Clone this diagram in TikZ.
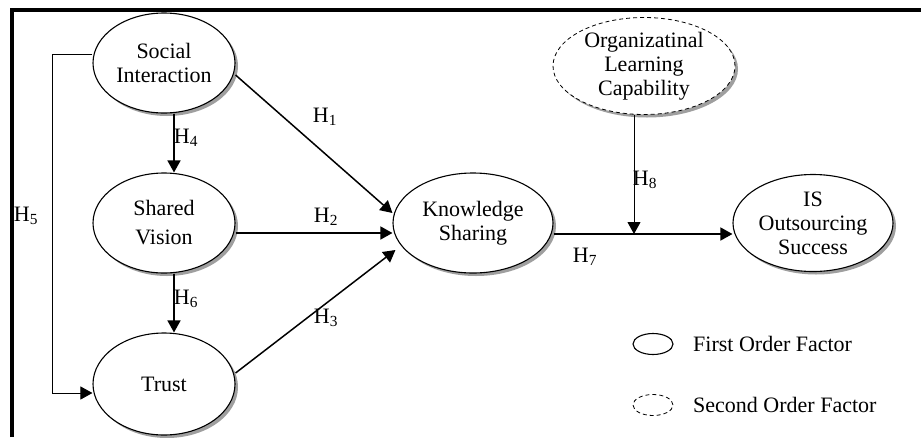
\documentclass[tikz,border=0pt]{standalone}
\usepackage{fontspec}
\setmainfont{Liberation Serif}
\usetikzlibrary{shapes.geometric, arrows.meta, shadows}

\begin{document}
\begin{tikzpicture}[
    x=1pt, y=-1pt,
    factor/.style={ellipse, draw, line width=1.1pt, fill=white, inner sep=0pt,
                   align=center, font=\fontsize{22}{24}\selectfont,
                   drop shadow={shadow xshift=3pt, shadow yshift=-3pt,
                                fill=gray!75, opacity=1}},
    second/.style={factor, dash pattern=on 4pt off 3pt, line width=0.8pt},
    flow/.style={-{Triangle[length=12pt, width=13pt]}, line width=1.5pt},
    link/.style={flow, line width=1pt},
    hyp/.style={font=\fontsize{22}{24}\selectfont, inner sep=0pt},
    legsolid/.style={ellipse, draw, line width=1.1pt, inner sep=0pt,
                     minimum width=40pt, minimum height=21pt},
    legdash/.style={legsolid, dash pattern=on 4pt off 3pt, line width=0.8pt},
    legtext/.style={font=\fontsize{22}{24}\selectfont, anchor=west, inner sep=0pt},
]

    \useasboundingbox (0,0) rectangle (921,437);
    \draw[line width=3.5pt] (12,437) -- (12,10) -- (921,10);

    \node[factor, minimum width=142pt, minimum height=100pt] (si) at (164, 63) {Social\\Interaction};
    \node[factor, minimum width=142pt, minimum height=100pt] (sv) at (164, 223) {Shared\\[5pt]Vision};
    \node[factor, minimum width=142pt, minimum height=102pt] (trust) at (164, 384) {Trust};
    \node[factor, minimum width=160pt, minimum height=100pt] (ks) at (473, 223) {Knowledge\\Sharing};
    \node[factor, minimum width=160pt, minimum height=97pt] (isos) at (813, 223) {IS\\Outsourcing\\Success};
    \node[second, minimum width=182pt, minimum height=97pt] (olc) at (644, 66) {Organizatinal\\Learning\\Capability};
    \coordinate (meet) at (634, 234);

    \draw[flow] ([yshift=-12pt]si.east) -- ([yshift=10pt]ks.west);
    \draw[flow] ([yshift=-10pt]sv.east) -- ([yshift=-10pt]ks.west);
    \draw[flow] ([yshift=11pt]trust.east) -- ([xshift=3pt, yshift=-27pt]ks.west);
    \draw[flow] ([xshift=10pt]si.south) -- ([xshift=10pt]sv.north);
    \draw[flow] ([xshift=10pt]sv.south) -- ([xshift=10pt]trust.north);
    \draw[link] ([yshift=9pt]si.west) -- ++(-40,0) |- ([yshift=-9pt]trust.west);
    \draw[flow] ([yshift=-11pt]ks.east) -- ([yshift=-11pt]isos.west);
    \draw[link] ([xshift=-10pt]olc.south) -- (meet);

    \node[hyp] (h1) at (325, 117) {H\textsubscript{1}};
    \node[hyp] (h2) at (326, 217) {H\textsubscript{2}};
    \node[hyp] (h3) at (326, 318) {H\textsubscript{3}};
    \node[hyp] (h4) at (186, 138) {H\textsubscript{4}};
    \node[hyp] (h5) at (26, 216) {H\textsubscript{5}};
    \node[hyp] (h6) at (186, 299) {H\textsubscript{6}};
    \node[hyp] (h7) at (585, 257) {H\textsubscript{7}};
    \node[hyp] (h8) at (645, 180) {H\textsubscript{8}};

    \node[legsolid] (first) at (653, 344) {};
    \node[legtext] (firsttext) at (693, 344) {First Order Factor};
    \node[legdash] (secondleg) at (653, 405) {};
    \node[legtext] (secondtext) at (693, 405) {Second Order Factor};
\end{tikzpicture}
\end{document}
